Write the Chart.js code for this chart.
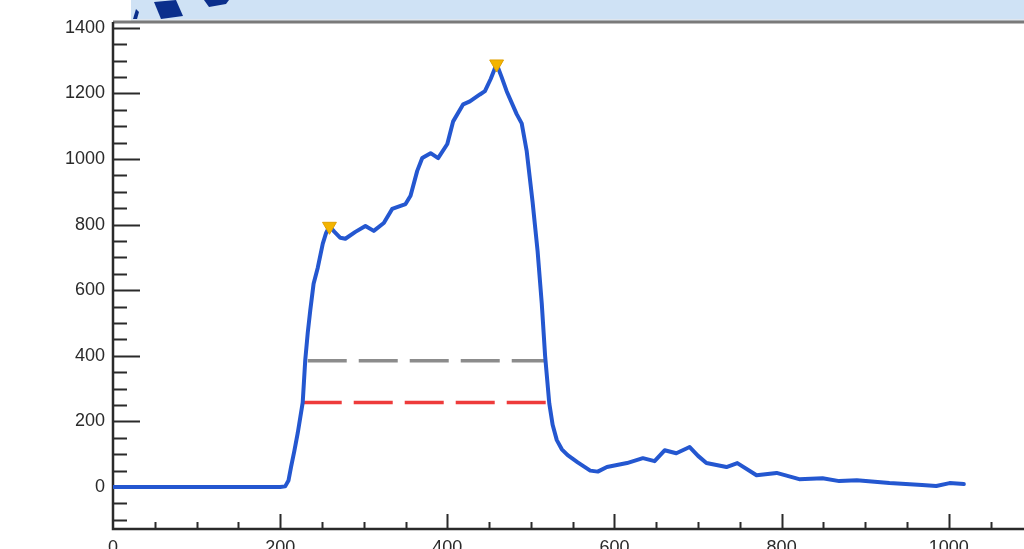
<!DOCTYPE html>
<html>
<head>
<meta charset="utf-8">
<script src="https://cdn.jsdelivr.net/npm/chart.js@4/dist/chart.umd.min.js"></script>
<style>
  html, body { margin: 0; padding: 0; background: #fff; }
  canvas { display: block; }
</style>
</head>
<body>
<canvas id="c" width="1024" height="549"></canvas>
<script>
// Pulse profile: sample position vs. amplitude
const xValues = [0, 100, 200, 206, 210, 213, 217, 221, 227, 230, 233, 236, 240, 245, 251, 255, 259,
  265, 272, 278, 290, 302, 312, 324, 334, 350, 356, 364, 370, 380, 389, 400, 407, 419, 427, 439, 445,
  452, 459, 465, 471, 483, 489, 495, 502, 508, 513, 517, 522, 526, 531, 537, 544, 556, 571, 580, 591, 615,
  634, 648, 660, 674, 690, 700, 710, 734, 747, 770, 794, 821, 849, 869, 890, 929, 968, 985, 1001, 1018];
const yValues = [0, 0, 0, 2, 20, 61, 110, 164, 258, 386, 470, 538, 620, 669, 742, 775, 795,
  778, 760, 757, 778, 796, 781, 805, 848, 863, 888, 964, 1003, 1018, 1003, 1046, 1115, 1167, 1176, 1197, 1207,
  1245, 1290, 1250, 1207, 1137, 1109, 1024, 870, 720, 560, 400, 255, 190, 143, 115, 97, 75, 50, 47, 61, 73,
  88, 79, 112, 103, 122, 95, 73, 61, 73, 36, 43, 24, 27, 18, 21, 12, 6, 3, 12, 9];

// Marked maxima
const peakX = [259, 459];
const peakY = [795, 1290];

// Threshold levels and their extents
const grayLevelY = 385;
const grayLevelX = [233, 518];
const redLevelY = 258;
const redLevelX = [227, 522];

// Axis tick labels
const xTickValues = [0, 200, 400, 600, 800, 1000];
const yTickValues = [0, 200, 400, 600, 800, 1000, 1200, 1400];

const X_MIN = 0, X_MAX = 1090, Y_MIN = -128, Y_MAX = 1418;

const curve = xValues.map((x, i) => ({ x, y: yValues[i] }));
const peaks = peakX.map((x, i) => ({ x, y: peakY[i] }));
const grayLevel = grayLevelX.map(x => ({ x, y: grayLevelY }));
const redLevel = redLevelX.map(x => ({ x, y: redLevelY }));

const tickFont = { family: "'Liberation Sans', Arial, sans-serif", size: 18 };

// Header strip with emblem, drawn behind the plot
const headerPlugin = {
  id: 'header',
  beforeDraw(chart) {
    const c = chart.ctx;
    c.save();
    c.fillStyle = '#ffffff';
    c.fillRect(0, 0, chart.width, chart.height);
    c.fillStyle = '#cfe2f5';
    c.fillRect(131, 0, chart.width - 131, 19);
    c.fillStyle = '#dfe6ee';
    c.fillRect(131, 19, chart.width - 131, 2);
    c.fillStyle = '#0b2f8c';
    c.beginPath();
    c.moveTo(133, 19); c.lineTo(136, 9); c.lineTo(139, 12); c.lineTo(137, 19); c.closePath(); c.fill();
    c.beginPath();
    c.moveTo(154, 2); c.lineTo(176, 0); c.lineTo(183, 16); c.lineTo(161, 19); c.closePath(); c.fill();
    c.beginPath();
    c.moveTo(204, 0); c.lineTo(229, 0); c.lineTo(226, 4); c.lineTo(209, 7); c.closePath(); c.fill();
    c.restore();
  }
};

// Frame and inward-facing tick marks
const framePlugin = {
  id: 'frame',
  beforeDatasetsDraw(chart) {
    const c = chart.ctx;
    const a = chart.chartArea;
    const xs = chart.scales.x, ys = chart.scales.y;
    c.save();
    // top frame edge
    c.strokeStyle = '#7a7a7a';
    c.lineWidth = 3;
    c.beginPath(); c.moveTo(a.left, a.top); c.lineTo(a.right, a.top); c.stroke();
    // axes
    c.strokeStyle = '#2a2a2a';
    c.lineWidth = 2.5;
    c.beginPath();
    c.moveTo(a.left, a.top); c.lineTo(a.left, a.bottom); c.lineTo(a.right, a.bottom);
    c.stroke();
    // y ticks every 50, major every 200
    c.lineWidth = 2;
    c.beginPath();
    for (let v = -100; v <= 1400; v += 50) {
      const py = Math.round(ys.getPixelForValue(v)) + 0.5;
      const len = (v % 200 === 0) ? 27 : 14;
      c.moveTo(a.left, py); c.lineTo(a.left + len, py);
    }
    // x ticks every 50, major every 200
    for (let v = 50; v <= 1050; v += 50) {
      const px = Math.round(xs.getPixelForValue(v)) + 0.5;
      const len = (v % 200 === 0) ? 15 : 7;
      c.moveTo(px, a.bottom); c.lineTo(px, a.bottom - len);
    }
    c.stroke();
    c.restore();
  }
};

const plainLabel = v => String(v);

new Chart(document.getElementById('c'), {
  type: 'line',
  data: {
    datasets: [
      {
        data: grayLevel,
        borderColor: '#8c8c8c',
        borderWidth: 3.5,
        borderDash: [39, 12],
        pointRadius: 0,
        order: 3
      },
      {
        data: redLevel,
        borderColor: '#ee3b3b',
        borderWidth: 3.5,
        borderDash: [39, 12],
        pointRadius: 0,
        order: 3
      },
      {
        data: curve,
        borderColor: '#2457d0',
        borderWidth: 4,
        borderJoinStyle: 'round',
        borderCapStyle: 'round',
        pointRadius: 0,
        tension: 0,
        order: 2
      },
      {
        data: peaks,
        showLine: false,
        pointStyle: 'triangle',
        rotation: 180,
        pointRadius: 8,
        backgroundColor: '#f3b400',
        borderColor: '#e0a000',
        borderWidth: 1,
        order: 1
      }
    ]
  },
  options: {
    responsive: false,
    animation: false,
    layout: { autoPadding: false, padding: { top: 22, right: 0, bottom: 0, left: 0 } },
    plugins: { legend: { display: false }, tooltip: { enabled: false } },
    scales: {
      x: {
        type: 'linear',
        min: X_MIN,
        max: X_MAX,
        grid: { display: false, drawTicks: false },
        border: { display: false },
        afterBuildTicks(s) { s.ticks = xTickValues.map(v => ({ value: v })); },
        ticks: { font: tickFont, color: '#2a2a2a', padding: 8, autoSkip: false, maxRotation: 0, callback: plainLabel },
        afterFit(s) { s.height = 20; s.paddingLeft = 0; s.paddingRight = 0; }
      },
      y: {
        type: 'linear',
        min: Y_MIN,
        max: Y_MAX,
        grid: { display: false, drawTicks: false },
        border: { display: false },
        afterBuildTicks(s) { s.ticks = yTickValues.map(v => ({ value: v })); },
        ticks: { font: tickFont, color: '#2a2a2a', padding: 8, autoSkip: false, callback: plainLabel },
        afterFit(s) { s.width = 113; s.paddingTop = 0; s.paddingBottom = 0; }
      }
    }
  },
  plugins: [headerPlugin, framePlugin]
});
</script>
</body>
</html>
